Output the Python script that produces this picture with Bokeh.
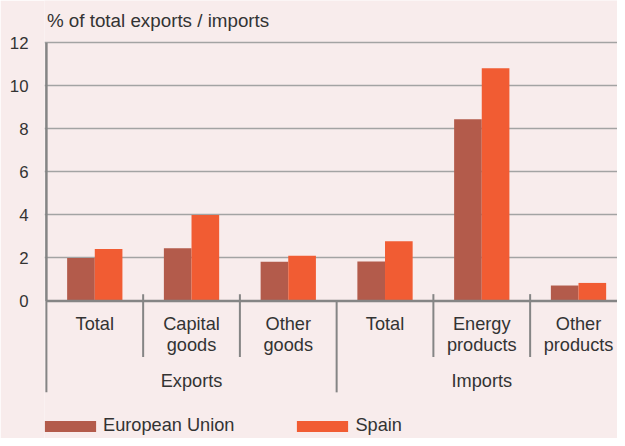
from bokeh.plotting import figure
from bokeh.models import (Range1d, FixedTicker, Legend, LegendItem, ColumnDataSource,
                          LinearAxis, Grid)
from bokeh.transform import dodge
from bokeh.core.properties import value
from bokeh.embed import file_html
from bokeh.resources import INLINE

# ---------------- data ----------------
title_text = "% of total exports / imports"
groups = ["Exports", "Imports"]
categories = ["Total", "Capital goods", "Other goods",
              "Total", "Energy products", "Other products"]
series_names = ["European Union", "Spain"]
eu_values = [2.0, 2.45, 1.82, 1.84, 8.45, 0.72]
spain_values = [2.42, 4.0, 2.1, 2.78, 10.82, 0.84]
y_ticks = [0, 2, 4, 6, 8, 10, 12]

# ---------------- style / layout ----------------
BG = "#f8ecec"
EU_COLOR = "#b35b4b"
ES_COLOR = "#f15c33"
TEXT = "#333333"
AXIS = "#858585"
GRID = "#a3a3a3"
FONT = value("Liberation Sans")

W, H = 617, 438
SX, SY = W / 625.0, H / 446.0
UX = 98.0                 # reference px per category
UY = 263.0 / 12.0         # reference px per y unit
AX = 46.5 * SX            # axis position in figure px
ZY = 306.0 * SY           # zero line in figure px
FRAME_L = 44
X0 = -(AX - FRAME_L) / (UX * SX)
X1 = (W - AX) / (UX * SX)
Y1 = ZY / (UY * SY)
Y0 = -(H - ZY) / (UY * SY)
BAR_W = 28.0 / UX
n = len(categories)
per_group = n // len(groups)
FS_LABEL = "18.2px"

p = figure(width=W, height=H, x_axis_type=None, y_axis_type=None,
           x_range=Range1d(X0, X1), y_range=Range1d(Y0, Y1),
           min_border_left=FRAME_L, min_border_right=0, min_border_top=0, min_border_bottom=0,
           output_backend="svg", toolbar_location=None,
           background_fill_color=BG, border_fill_color=BG, outline_line_color=None)

# grid
p.add_layout(Grid(dimension=1, ticker=FixedTicker(ticks=y_ticks[1:]),
                  grid_line_color=GRID, grid_line_width=1.5))

# y axis (labels only)
yaxis = LinearAxis(ticker=FixedTicker(ticks=y_ticks), axis_line_color=None,
                   major_tick_line_color=None, minor_tick_line_color=None,
                   major_tick_out=0, major_tick_in=0, major_label_standoff=16,
                   major_label_text_font="Liberation Sans",
                   major_label_text_font_size="16.8px",
                   major_label_text_color=TEXT)
p.add_layout(yaxis, "left")

# bars
src = ColumnDataSource(dict(x=[i + 0.5 for i in range(n)], eu=eu_values, es=spain_values))
r_eu = p.vbar(x=dodge("x", -BAR_W / 2, range=p.x_range), top="eu", bottom=0,
              width=BAR_W, source=src, fill_color=EU_COLOR, line_color=None)
r_es = p.vbar(x=dodge("x", BAR_W / 2, range=p.x_range), top="es", bottom=0,
              width=BAR_W, source=src, fill_color=ES_COLOR, line_color=None)

# axis lines
p.segment(x0=[0], y0=[max(y_ticks)], x1=[0], y1=[0], line_color=AXIS, line_width=2.5)
p.segment(x0=[0], y0=[0], x1=[X1], y1=[0], line_color=AXIS, line_width=2.5)

# separators between categories / groups
bx, by0, by1 = [], [], []
for b in range(n + 1):
    bx.append(b)
    by0.append(7 / UY if b % per_group else 0)
    by1.append(-(93 if b % per_group == 0 else 57) / UY)
p.segment(x0=bx, y0=by0, x1=bx, y1=by1, line_color=AXIS, line_width=2)

# category labels
line1 = [c.split(" ", 1)[0] for c in categories]
line2 = [c.split(" ", 1)[1] if " " in c else "" for c in categories]
cx = [i + 0.5 for i in range(n)]
common = dict(text_align="center", text_baseline="middle", text_font=FONT,
              text_font_size=FS_LABEL, text_color=TEXT)
p.text(x=cx, y=[-23.3 / UY] * n, text=line1, **common)
p.text(x=cx, y=[-44.7 / UY] * n, text=line2, **common)
gx = [g * per_group + per_group / 2 for g in range(len(groups))]
p.text(x=gx, y=[-81.7 / UY] * len(groups), text=groups, **common)

# title
p.text(x=[0.5 / UX], y=[12 + (43 - 19.9) / UY], text=[title_text], text_align="left",
       text_baseline="middle", text_font=FONT, text_font_size="18.8px", text_color=TEXT)

# legend
legend = Legend(items=[LegendItem(label=series_names[0], renderers=[r_eu]),
                       LegendItem(label=series_names[1], renderers=[r_es])],
                orientation="horizontal", location=(-6, 2),
                glyph_width=64, glyph_height=14, label_standoff=1, spacing=56,
                padding=0, margin=0, border_line_color=None, background_fill_alpha=0,
                label_text_font="Liberation Sans", label_text_font_size=FS_LABEL,
                label_text_color=TEXT, label_height=14)
p.add_layout(legend)

open("out.html", "w").write(file_html(p, INLINE))
